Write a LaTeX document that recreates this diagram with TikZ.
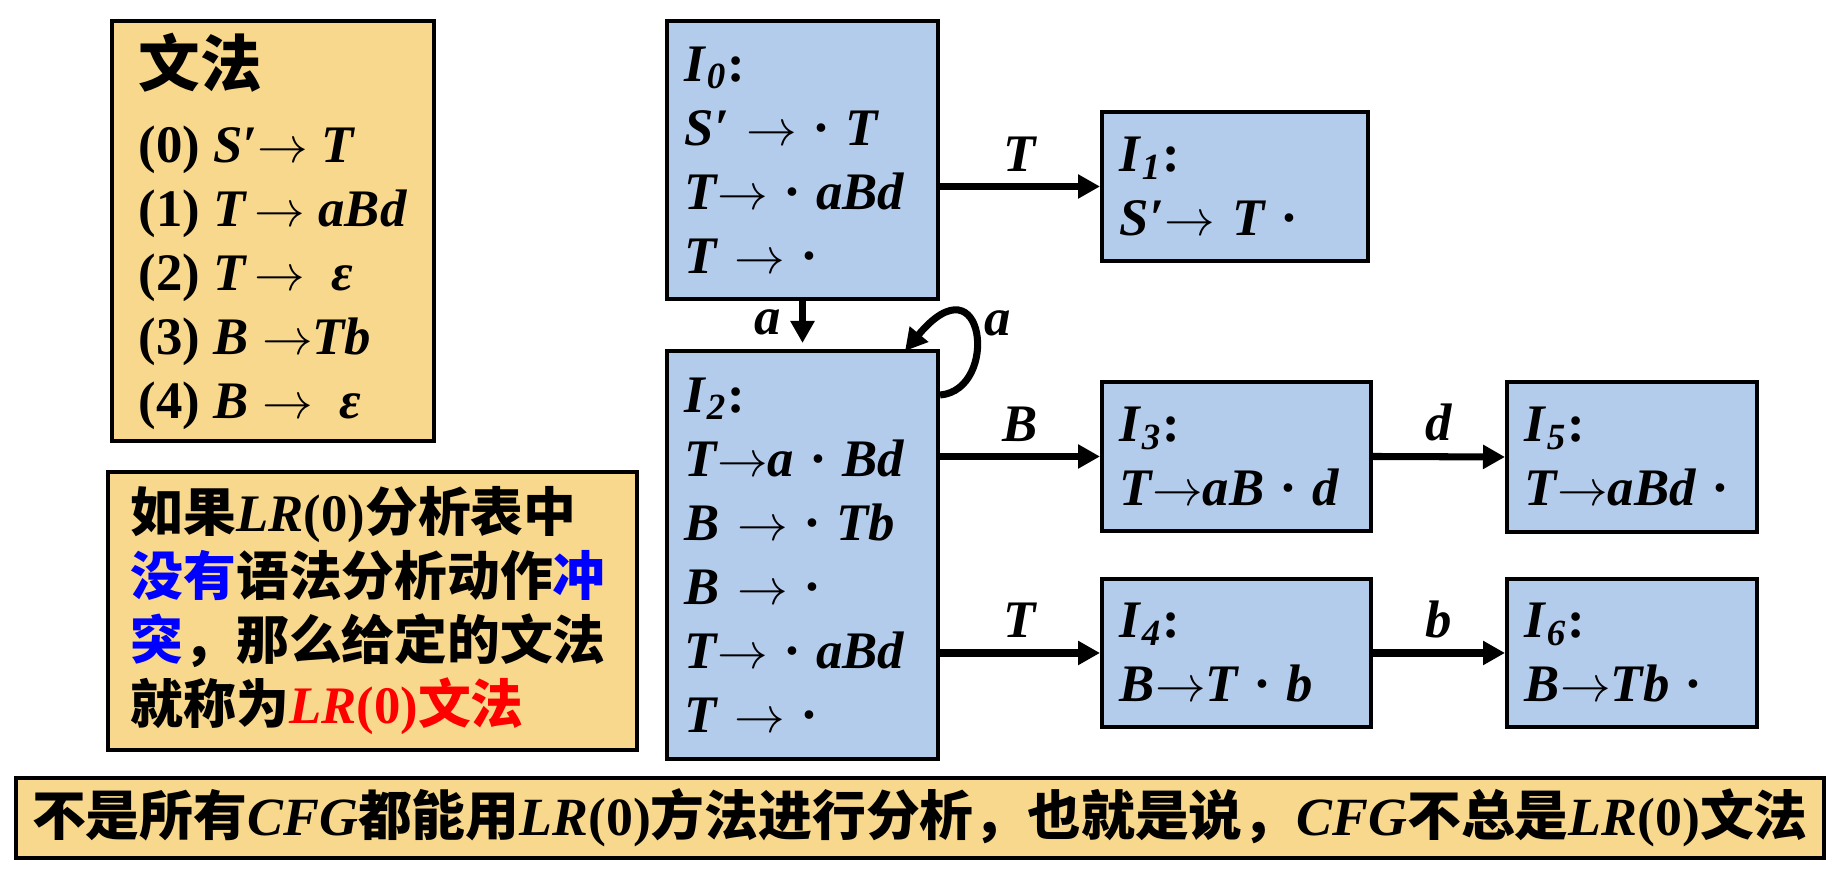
\documentclass[tikz,border=0pt]{standalone}
\usepackage{fontspec}
\setmainfont{Liberation Serif}
\newfontfamily\cjk{Noto Sans CJK SC}
\usetikzlibrary{arrows.meta}
\definecolor{boxy}{HTML}{F8D88D}
\definecolor{boxb}{HTML}{B4CCEC}
\newcommand\zh[1]{{\cjk\upshape #1}}
\newcommand\itx[1]{\textit{#1}}
\newcommand\toar{\(\rightarrow\)}
\begin{document}
\begin{tikzpicture}[x=0.01cm,y=-0.01cm,
  every node/.style={font=\fontsize{15}{18.2}\selectfont\bfseries},
  ybox/.style={draw,line width=1.1pt,fill=boxy,anchor=north west,align=left,inner ysep=0pt},
  bbox/.style={draw,line width=1.1pt,fill=boxb,anchor=north west,align=left,inner xsep=0.18cm,inner ysep=0pt},
  conn/.style={line width=2pt,-{Triangle[length=0.22cm,width=0.23cm]}},
  lab/.style={font=\fontsize{15}{18}\selectfont\bfseries\itshape}
]
\useasboundingbox (0,0) rectangle (1846,873);

% grammar box
\node[ybox,inner xsep=0.2cm,minimum width=3.22cm,minimum height=4.20cm] (G) at (110,19)
 {{\fontsize{17.5}{18.2}\selectfont\zh{文法}}\\[0.12cm]
  (0) \itx{S′\toar\ T}\\
  (1) \itx{T\,\toar\ aBd}\\
  (2) \itx{T\,\toar\ \ ε}\\
  (3) \itx{B \toar Tb}\\
  (4) \itx{B \toar\ \ ε}};

% condition box
\node[ybox,inner xsep=0.23cm,text width=4.83cm,minimum width=5.29cm,minimum height=2.78cm] (C) at (106,470)
 {\zh{如果}\itx{LR}(0)\zh{分析表中}\\
  \textcolor{blue}{\zh{没有}}\zh{语法分析动作}\textcolor{blue}{\zh{冲}}\\
  \textcolor{blue}{\zh{突}}\zh{，那么给定的文法}\\
  \zh{就称为}\textcolor{red}{\itx{LR}(0)\zh{文法}}};

% bottom box
\node[ybox,align=center,inner xsep=0.1cm,text width=17.87cm,minimum width=18.07cm,minimum height=0.80cm,font=\fontsize{15.3}{18.2}\selectfont\bfseries] (Bot) at (14,776)
 {\zh{不是所有}\itx{CFG}\zh{都能用}\itx{LR}(0)\zh{方法进行分析，也就是说，}\itx{CFG}\zh{不总是}\itx{LR}(0)\zh{文法}};

% item sets
\node[bbox,text width=2.35cm,minimum width=2.71cm,minimum height=2.78cm] (I0) at (665,19)
 {\itx{I}\textsubscript{\itx{0}}:\\
  \itx{S′ \toar\ · T}\\
  \itx{T\toar\ · aBd}\\
  \itx{T \toar\ ·}};
\node[bbox,text width=2.30cm,minimum width=2.66cm,minimum height=1.49cm] (I1) at (1100,110)
 {\itx{I}\textsubscript{\itx{1}}:\\
  \itx{S′\toar\ T ·}};
\node[bbox,text width=2.35cm,minimum width=2.71cm,minimum height=4.08cm] (I2) at (665,349)
 {\itx{I}\textsubscript{\itx{2}}:\\
  \itx{T\toar a · Bd}\\
  \itx{B \toar\ · Tb}\\
  \itx{B \toar\ ·}\\
  \itx{T\toar\ · aBd}\\
  \itx{T \toar\ ·}};
\node[bbox,text width=2.33cm,minimum width=2.69cm,minimum height=1.49cm] (I3) at (1100,380)
 {\itx{I}\textsubscript{\itx{3}}:\\
  \itx{T\toar aB · d}};
\node[bbox,text width=2.33cm,minimum width=2.69cm,minimum height=1.48cm] (I4) at (1100,577)
 {\itx{I}\textsubscript{\itx{4}}:\\
  \itx{B\toar T · b}};
\node[bbox,text width=2.14cm,minimum width=2.50cm,minimum height=1.50cm] (I5) at (1505,380)
 {\itx{I}\textsubscript{\itx{5}}:\\
  \itx{T\toar aBd ·}};
\node[bbox,text width=2.14cm,minimum width=2.50cm,minimum height=1.48cm] (I6) at (1505,577)
 {\itx{I}\textsubscript{\itx{6}}:\\
  \itx{B\toar Tb ·}};

% transitions
\draw[conn] (I1.west -| I0.east) -- node[above,lab] {T} (I1.west);
\draw[conn] (I0.south) -- node[left,lab,xshift=-0.06cm] {a} ([yshift=0.06cm]I2.north);
\draw[conn] ([yshift=-0.46cm]I2.north east) .. controls (1000,390) and (985,255) .. node[pos=0.6,right,lab] {a} ([xshift=-0.35cm,yshift=-0.02cm]I2.north east);
\draw[conn] (I3.west -| I2.east) -- node[above,lab] {B} (I3.west);
\draw[conn] (I4.west -| I2.east) -- node[above,lab] {T} (I4.west);
\draw[conn] (I3.east) -- node[above,lab] {d} (I5.west);
\draw[conn] (I4.east) -- node[above,lab] {b} (I6.west);
\end{tikzpicture}
\end{document}
